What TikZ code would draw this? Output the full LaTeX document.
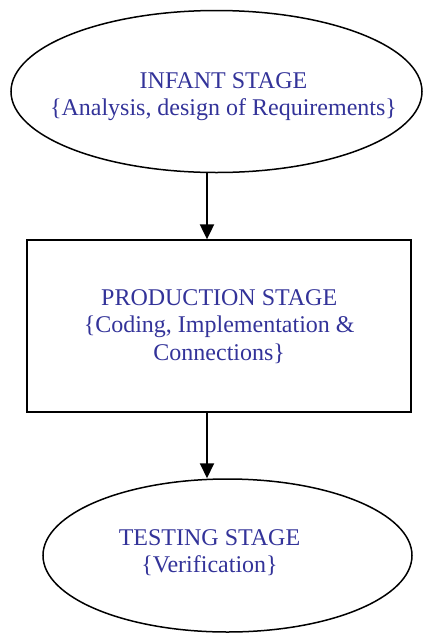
\documentclass[tikz,border=0pt]{standalone}
\usepackage{fontspec}
\setmainfont{Liberation Serif}
\usetikzlibrary{arrows.meta,positioning,shapes.geometric}
\definecolor{ink}{HTML}{333399}

\begin{document}
\begin{tikzpicture}[x=1pt,y=-1pt,>={Triangle[length=15pt,width=14pt]},
 s/.style={draw,ellipse,line width=1.5pt,inner sep=0pt},
 b/.style={draw,rectangle,line width=1.7pt,minimum width=384pt,minimum height=172pt,t},
 t/.style={align=center,text=ink,font=\fontsize{24}{27.5}\selectfont},
 a/.style={->,line width=2pt}]
 \useasboundingbox (0,0) rectangle (423,633);
 \node[s,minimum width=411pt,minimum height=162pt,
  label={[t,xshift=7pt,yshift=-5pt]center:{INFANT STAGE\\\{Analysis, design of Requirements\}}}] (infant) at (216.5,91.5) {};
 \node[b] (prod) at (219.2,326.2) {PRODUCTION STAGE\\\{Coding, Implementation \&\\Connections\}};
 \node[s,minimum width=369pt,minimum height=153pt,
  label={[t,xshift=-18pt,yshift=3pt]center:{TESTING STAGE\\\{Verification\}}}] (test) at (227.5,555.5) {};
 \coordinate (ax) at (207,0);
 \draw[a] (infant.south -| ax) -- (prod.north -| ax);
 \draw[a] (prod.south -| ax) -- (test.north -| ax);
\end{tikzpicture}
\end{document}
